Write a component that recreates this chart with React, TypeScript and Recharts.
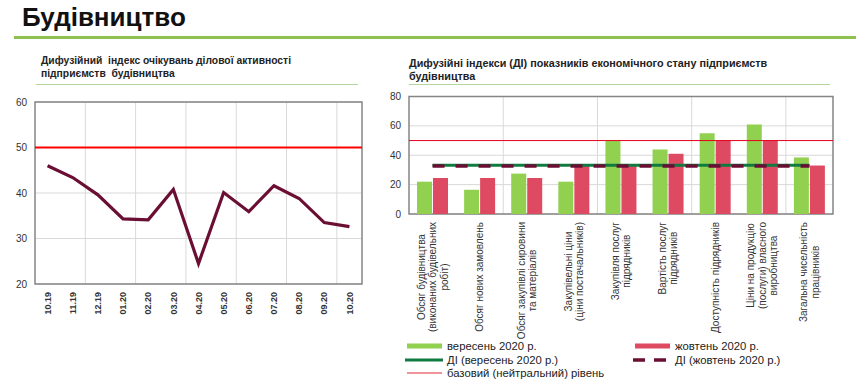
import React from 'react';
import {
  ComposedChart,
  Line,
  Bar,
  XAxis,
  YAxis,
  CartesianGrid,
  ReferenceLine,
  ReferenceArea,
} from 'recharts';

// Left chart: business activity expectations index
const months = ['10.19', '11.19', '12.19', '01.20', '02.20', '03.20', '04.20', '05.20', '06.20', '07.20', '08.20', '09.20', '10.20'];
const expectationIndex = [46, 43.4, 39.6, 34.3, 34.1, 40.8, 24.5, 40.1, 35.9, 41.6, 38.8, 33.5, 32.6];
const leftTicks = [20, 30, 40, 50, 60];

// Right chart: diffusion indices of economic state
const indicators = [
  'Обсяг будівництва\n(виконаних будівельних\nробіт)',
  'Обсяг нових замовлень',
  'Обсяг закупівлі сировини\nта матеріалів',
  'Закупівельні ціни\n(ціни постачальників)',
  'Закупівля послуг\nпідрядників',
  'Вартість послуг\nпідрядників',
  'Доступність підрядників',
  'Ціни на продукцію\n(послуги) власного\nвиробництва',
  'Загальна чисельність\nпрацівників',
];
const september = [22, 16.5, 27.5, 22, 50, 44, 55, 61, 38.5];
const october = [24.5, 24.5, 24.5, 33, 33, 41, 50, 50, 33];
const diSeptember = [33.2, 33.2, 33.2, 33.2, 33.2, 33.2, 33.2, 33.2, 33.2];
const diOctober = [32.7, 32.7, 32.7, 32.7, 32.7, 32.7, 32.7, 32.7, 32.7];
const rightTicks = [0, 20, 40, 60, 80];

const FONT = '"Liberation Sans", Arial, sans-serif';
const GREEN = '#92D050';
const RED = '#DF4A63';
const DI_GREEN = '#0F7B41';
const DI_MAROON = '#6B0E33';

const leftData = months.map((m, i) => ({ month: m, value: expectationIndex[i] }));
const rightData = indicators.map((name, i) => ({
  name,
  sep: september[i],
  oct: october[i],
  diSep: diSeptember[i],
  diOct: diOctober[i],
}));

let ctx: CanvasRenderingContext2D | null = null;
const measure = (s: string, font: string) => {
  if (!ctx) ctx = document.createElement('canvas').getContext('2d');
  if (!ctx) return s.length * 5;
  ctx.font = font;
  return ctx.measureText(s).width;
};

const MonthTick = ({ x, y, payload }: any) => (
  <text
    x={x + 3.2}
    y={y}
    transform={`rotate(-90, ${x + 3.2}, ${y})`}
    textAnchor="end"
    fontSize={9}
    fontWeight="bold"
    fill="#333"
    fontFamily={FONT}
  >
    {payload.value}
  </text>
);

const IndicatorTick = ({ x, y, payload }: any) => {
  const lines = String(payload.value).split('\n');
  const font = `10px ${FONT}`;
  const block = Math.max(...lines.map((l) => measure(l, font)));
  const cy = y + block / 2;
  return (
    <g>
      {lines.map((l, i) => {
        const cx = x + (i - (lines.length - 1) / 2) * 11.5 + 3.5;
        return (
          <text
            key={i}
            x={cx}
            y={cy}
            transform={`rotate(-90, ${cx}, ${cy})`}
            textAnchor="middle"
            fontSize={10}
            fill="#333"
            fontFamily={FONT}
          >
            {l}
          </text>
        );
      })}
    </g>
  );
};

// vertical grid every two categories, on band boundaries
const everyTwoBands = (count: number) => ({ offset }: any) => {
  const band = offset.width / count;
  const pts: number[] = [];
  for (let i = 2; i < count; i += 2) pts.push(offset.left + i * band);
  return pts;
};

const legendItems = [
  { label: 'вересень 2020 р.', col: 0, row: 0, kind: 'bar', color: GREEN },
  { label: 'жовтень 2020 р.', col: 1, row: 0, kind: 'bar', color: RED },
  { label: 'ДІ (вересень 2020 р.)', col: 0, row: 1, kind: 'line', color: DI_GREEN },
  { label: 'ДІ (жовтень 2020 р.)', col: 1, row: 1, kind: 'dash', color: DI_MAROON },
  { label: 'базовий (нейтральний) рівень', col: 0, row: 2, kind: 'thin', color: '#E8707A' },
];

const Swatch = ({ kind, color }: { kind: string; color: string }) => (
  <svg width={38} height={8} style={{ display: 'block' }}>
    {kind === 'bar' && <line x1={2} x2={37} y1={4} y2={4} stroke={color} strokeWidth={5} />}
    {kind === 'line' && <line x1={0} x2={38} y1={4} y2={4} stroke={color} strokeWidth={3} />}
    {kind === 'dash' && <line x1={0} x2={36} y1={4} y2={4} stroke={color} strokeWidth={3.5} strokeDasharray="12 9" />}
    {kind === 'thin' && <line x1={2} x2={37} y1={4} y2={4} stroke={color} strokeWidth={1.5} />}
  </svg>
);

export default function App() {
  return (
    <div
      style={{
        position: 'absolute',
        left: 0,
        top: 0,
        width: 856,
        height: 383,
        background: '#fff',
        fontFamily: FONT,
        color: '#111',
        overflow: 'hidden',
      }}
    >
      <div style={{ position: 'absolute', left: 22, top: 2, fontSize: 26, lineHeight: '30px', fontWeight: 'bold' }}>
        Будівництво
      </div>
      <div style={{ position: 'absolute', left: 14, top: 35.5, width: 842, height: 3, background: '#8DC152' }} />

      <div style={{ position: 'absolute', left: 41, top: 53.5, fontSize: 10.3, lineHeight: '13px', fontWeight: 'bold', color: '#222' }}>
        Дифузійний&nbsp; індекс очікувань ділової активності
        <br />
        підприємств&nbsp; будівництва
      </div>
      <div style={{ position: 'absolute', left: 36, top: 83.5, width: 322, height: 1.5, background: '#B5D69A' }} />

      <div style={{ position: 'absolute', left: 409, top: 57, fontSize: 10.8, lineHeight: '13px', fontWeight: 'bold', color: '#222' }}>
        Дифузійні індекси (ДІ) показників економічного стану підприємств
        <br />
        будівництва
      </div>
      <div style={{ position: 'absolute', left: 409, top: 83.5, width: 421, height: 1.5, background: '#B5D69A' }} />

      <div style={{ position: 'absolute', left: 0, top: 90 }}>
        <ComposedChart width={380} height={234} data={leftData} margin={{ top: 12, right: 18, bottom: 0, left: 0 }}>
          <CartesianGrid
            stroke="#D9D9D9"
            verticalCoordinatesGenerator={everyTwoBands(months.length)}
          />
          <XAxis
            dataKey="month"
            scale="band"
            interval={0}
            height={40}
            tickLine={false}
            axisLine={false}
            tick={<MonthTick />}
          />
          <YAxis
            domain={[20, 60]}
            ticks={leftTicks}
            width={35}
            tickLine={false}
            axisLine={false}
            tick={{ fontSize: 10, fill: '#333', fontFamily: FONT }}
          />
          <ReferenceArea y1={20} y2={60} fill="none" stroke="#858585" strokeWidth={1.5} />
          <ReferenceLine y={50} stroke="#FF0000" strokeWidth={2} />
          <Line
            type="linear"
            dataKey="value"
            stroke={DI_MAROON}
            strokeWidth={3.2}
            dot={false}
            isAnimationActive={false}
          />
        </ComposedChart>
      </div>

      <div style={{ position: 'absolute', left: 380, top: 86 }}>
        <ComposedChart
          width={476}
          height={262}
          data={rightData}
          margin={{ top: 10.5, right: 23, bottom: 0, left: 0 }}
          barSize={15}
          barGap={1}
        >
          <CartesianGrid
            stroke="#D9D9D9"
            verticalCoordinatesGenerator={everyTwoBands(indicators.length)}
          />
          <XAxis dataKey="name" interval={0} height={134} tickLine={false} axisLine={false} tick={<IndicatorTick />} />
          <YAxis
            domain={[0, 80]}
            ticks={rightTicks}
            width={29}
            tickLine={false}
            axisLine={false}
            tick={{ fontSize: 10, fill: '#333', fontFamily: FONT }}
          />
          <ReferenceArea y1={0} y2={80} fill="none" stroke="#858585" strokeWidth={1.5} />
          <ReferenceLine y={50} stroke="#E3001B" strokeWidth={1} />
          <Bar dataKey="sep" fill={GREEN} isAnimationActive={false} />
          <Bar dataKey="oct" fill={RED} isAnimationActive={false} />
          <Line type="linear" dataKey="diSep" stroke={DI_GREEN} strokeWidth={3} dot={false} isAnimationActive={false} />
          <Line
            type="linear"
            dataKey="diOct"
            stroke={DI_MAROON}
            strokeWidth={3.5}
            strokeDasharray="12 11"
            dot={false}
            isAnimationActive={false}
          />
        </ComposedChart>
      </div>

      {legendItems.map((it) => (
        <div
          key={it.label}
          style={{
            position: 'absolute',
            left: it.col === 0 ? 405 : 633,
            top: 340 + it.row * 13.5,
            height: 12,
            display: 'flex',
            alignItems: 'center',
            fontSize: 11.3,
            lineHeight: '12px',
            color: '#222',
            whiteSpace: 'nowrap',
          }}
        >
          <Swatch kind={it.kind} color={it.color} />
          <span style={{ marginLeft: 4 }}>{it.label}</span>
        </div>
      ))}
    </div>
  );
}
